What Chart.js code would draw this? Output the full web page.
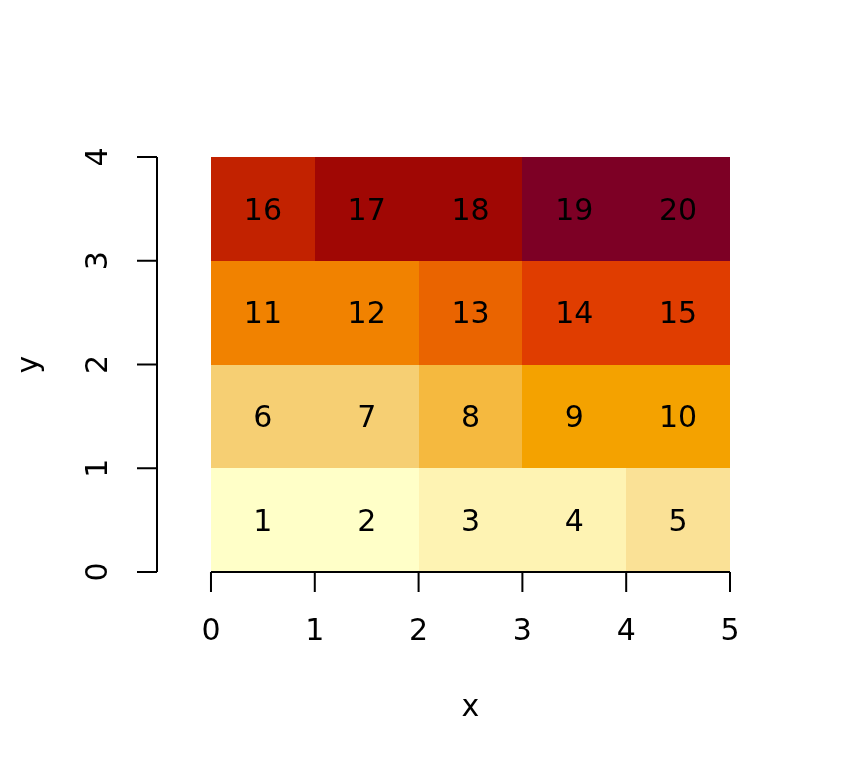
<!DOCTYPE html>
<html>
<head>
<meta charset="utf-8">
<script src="https://cdn.jsdelivr.net/npm/chart.js@4/dist/chart.umd.min.js"></script>
<style>
html,body{margin:0;padding:0;background:#fff;}
#wrap{width:864px;height:768px;}
</style>
</head>
<body>
<div id="wrap"><canvas id="c" width="864" height="768"></canvas></div>
<script>
// ---- data ----
const xCenters = [0.5, 1.5, 2.5, 3.5, 4.5];
const yCenters = [0.5, 1.5, 2.5, 3.5];
const zValues = [
  [1, 2, 3, 4, 5],
  [6, 7, 8, 9, 10],
  [11, 12, 13, 14, 15],
  [16, 17, 18, 19, 20]
];
const palette = ['#FFFFC8','#FEF3B3','#FAE196','#F6CF73','#F5B93F','#F4A200',
                 '#F18200','#EA6400','#E03D00','#C22200','#A00704','#7D0025'];
const xTicks = [0, 1, 2, 3, 4, 5];
const yTicks = [0, 1, 2, 3, 4];
const xTitle = 'x';
const yTitle = 'y';

// build points
const points = [];
yCenters.forEach((yc, r) => xCenters.forEach((xc, c) => points.push({x: xc, y: yc, z: zValues[r][c]})));
const zmin = Math.min(...points.map(p => p.z)), zmax = Math.max(...points.map(p => p.z));
function colorFor(z) {
  const n = palette.length;
  let i = Math.ceil((z - zmin) / (zmax - zmin) * n) - 1;
  if (i < 0) i = 0; if (i > n - 1) i = n - 1;
  return palette[i];
}

const FONT = '30px "DejaVu Sans", sans-serif';

const heatPlugin = {
  id: 'heat',
  beforeDatasetsDraw(chart) {
    const ctx = chart.ctx, xs = chart.scales.x, ys = chart.scales.y;
    ctx.save();
    points.forEach(p => {
      const x0 = Math.round(xs.getPixelForValue(p.x - 0.5));
      const x1 = Math.round(xs.getPixelForValue(p.x + 0.5));
      const y0 = Math.round(ys.getPixelForValue(p.y + 0.5));
      const y1 = Math.round(ys.getPixelForValue(p.y - 0.5));
      ctx.fillStyle = colorFor(p.z);
      ctx.fillRect(x0, y0, x1 - x0, y1 - y0);
    });
    ctx.fillStyle = '#000';
    ctx.font = FONT;
    ctx.textAlign = 'center';
    ctx.textBaseline = 'middle';
    points.forEach(p => {
      ctx.fillText(String(p.z), xs.getPixelForValue(p.x), ys.getPixelForValue(p.y) + 3);
    });
    ctx.restore();
  },
  afterDraw(chart) {
    const ctx = chart.ctx, xs = chart.scales.x, ys = chart.scales.y;
    ctx.save();
    ctx.strokeStyle = '#000';
    ctx.lineWidth = 2;
    ctx.lineCap = 'butt';
    // x axis
    const yAx = ys.getPixelForValue(0);
    const xa0 = xs.getPixelForValue(xTicks[0]), xa1 = xs.getPixelForValue(xTicks[xTicks.length - 1]);
    ctx.beginPath();
    ctx.moveTo(xa0, yAx); ctx.lineTo(xa1, yAx);
    xTicks.forEach(t => { const px = xs.getPixelForValue(t); ctx.moveTo(px, yAx); ctx.lineTo(px, yAx + 20); });
    ctx.stroke();
    // y axis
    const xAx = chart.chartArea.left;
    const ya0 = ys.getPixelForValue(yTicks[0]), ya1 = ys.getPixelForValue(yTicks[yTicks.length - 1]);
    ctx.beginPath();
    ctx.moveTo(xAx, ya0); ctx.lineTo(xAx, ya1);
    yTicks.forEach(t => { const py = ys.getPixelForValue(t); ctx.moveTo(xAx, py); ctx.lineTo(xAx - 20, py); });
    ctx.stroke();
    // labels
    ctx.fillStyle = '#000';
    ctx.font = FONT;
    ctx.textAlign = 'center';
    ctx.textBaseline = 'middle';
    xTicks.forEach(t => ctx.fillText(String(t), xs.getPixelForValue(t), yAx + 60));
    yTicks.forEach(t => {
      ctx.save();
      ctx.translate(xAx - 58, ys.getPixelForValue(t));
      ctx.rotate(-Math.PI / 2);
      ctx.fillText(String(t), 0, 0);
      ctx.restore();
    });
    ctx.fillText(xTitle, (xa0 + xa1) / 2, yAx + 136);
    ctx.save();
    ctx.translate(30, (ya0 + ya1) / 2);
    ctx.rotate(-Math.PI / 2);
    ctx.fillText(yTitle, 0, 0);
    ctx.restore();
    ctx.restore();
  }
};

new Chart(document.getElementById('c'), {
  type: 'scatter',
  data: { datasets: [{ data: points, pointRadius: 0, pointHoverRadius: 0 }] },
  options: {
    responsive: false,
    animation: false,
    events: [],
    layout: { padding: { left: 157, right: 134, top: 157, bottom: 196 } },
    plugins: { legend: { display: false }, tooltip: { enabled: false } },
    scales: {
      x: { type: 'linear', min: -0.52, max: 5, display: false },
      y: { type: 'linear', min: 0, max: 4, display: false }
    }
  },
  plugins: [heatPlugin]
});
</script>
</body>
</html>
